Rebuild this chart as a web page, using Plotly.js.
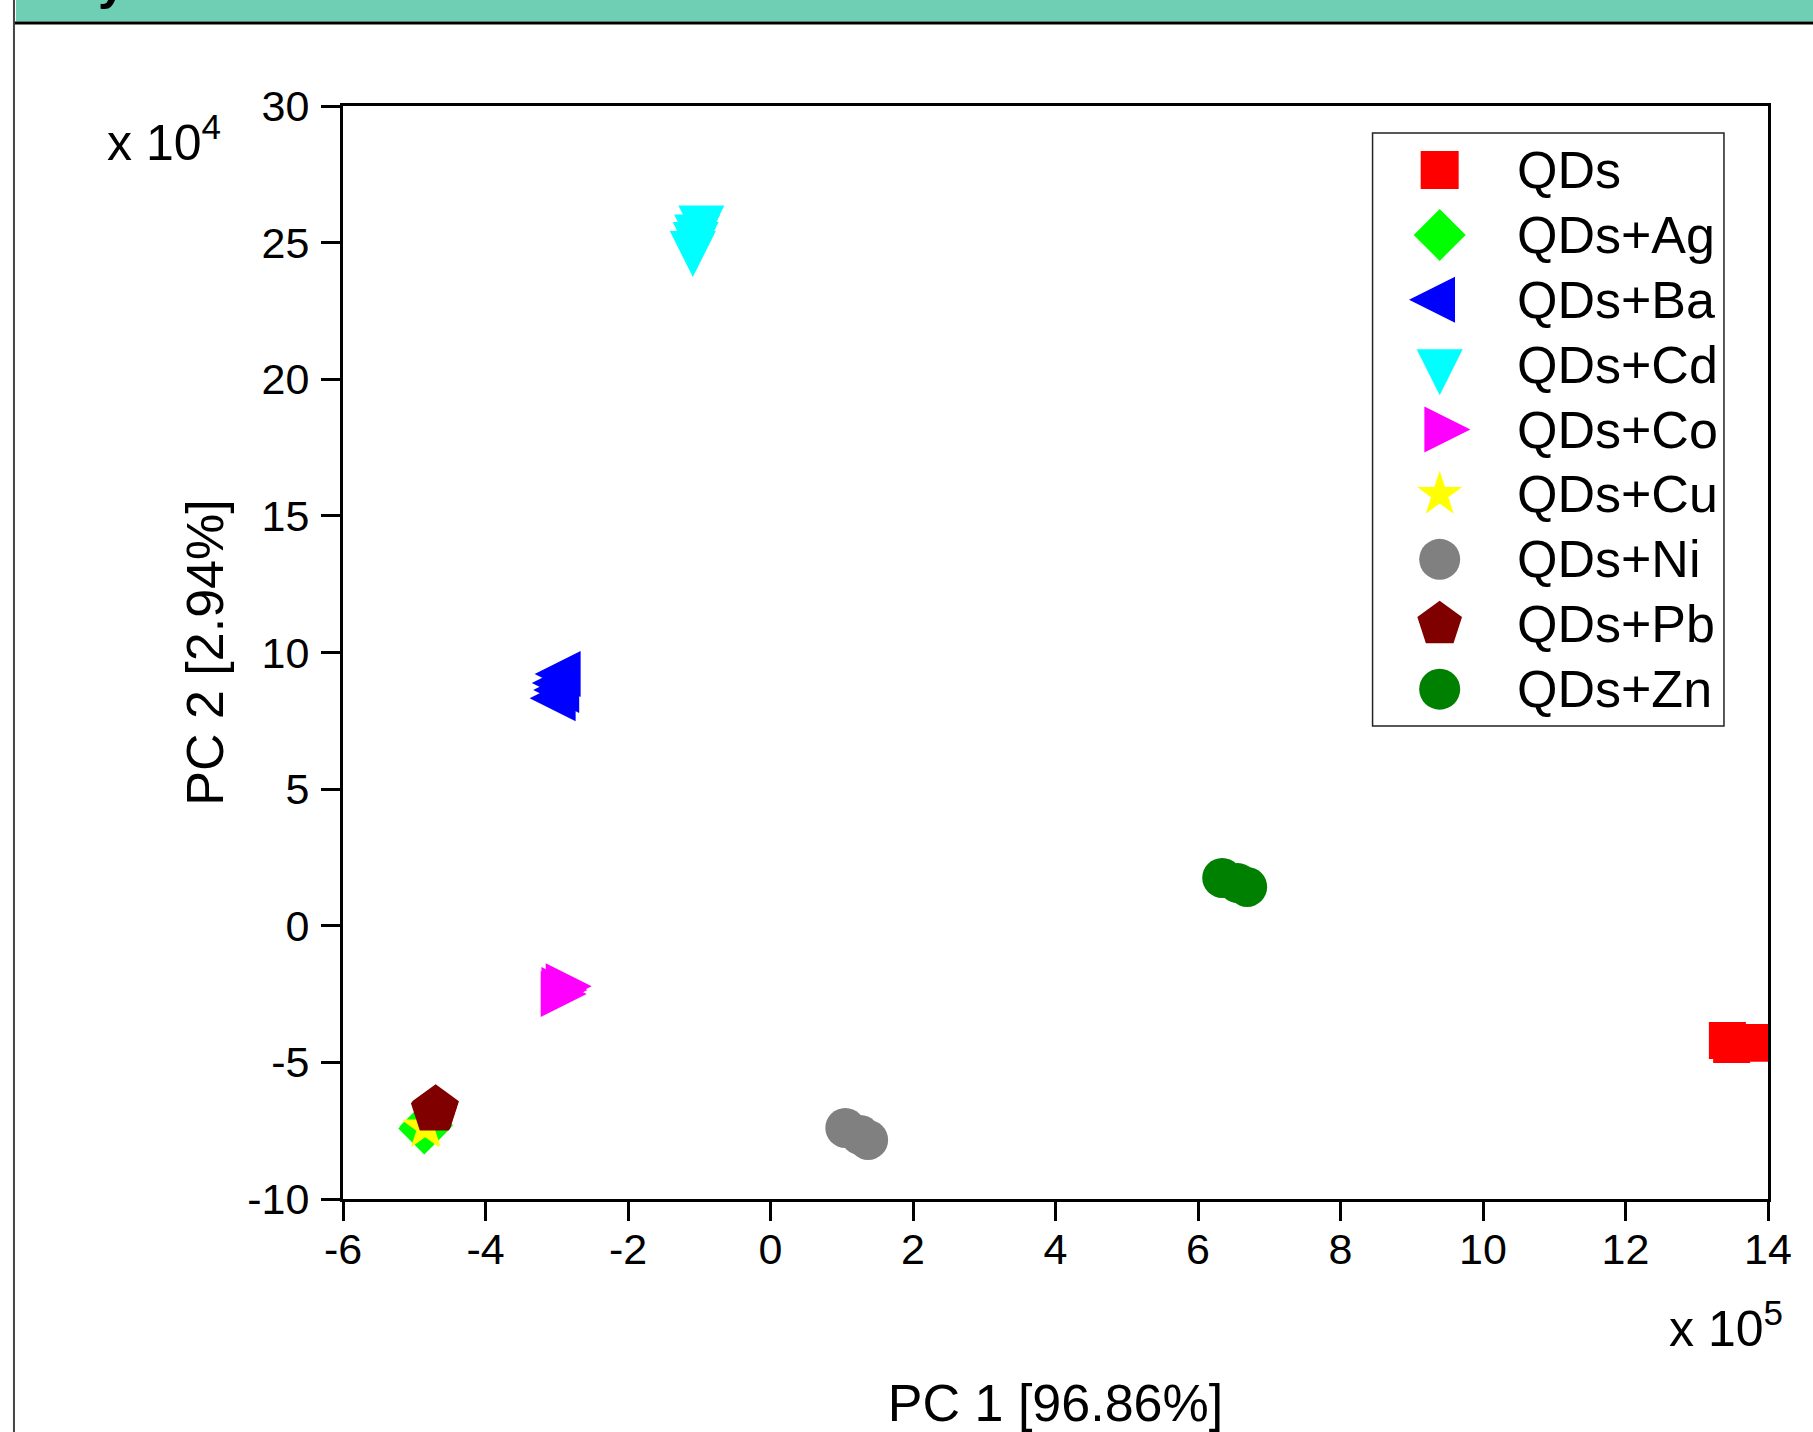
<!DOCTYPE html>
<html>
<head>
<meta charset="utf-8">
<script src="https://cdn.plot.ly/plotly-3.0.1.min.js"></script>
<style>
  html, body { margin: 0; padding: 0; background: #ffffff; }
  #chart { width: 1813px; height: 1432px; }
</style>
</head>
<body>
<div id="chart"></div>
<script>
// ---- data (PC1 in units of 1e5, PC2 in units of 1e4) ----
const categories = ['QDs', 'QDs+Ag', 'QDs+Ba', 'QDs+Cd', 'QDs+Co', 'QDs+Cu', 'QDs+Ni', 'QDs+Pb', 'QDs+Zn'];

const qdsX = [13.43, 13.49, 13.78, 13.89];
const qdsY = [-4.20, -4.35, -4.27, -4.30];
const agX = [-4.84, -4.86, -4.82];
const agY = [-7.35, -7.42, -7.30];
const baX = [-2.88, -2.92, -2.90, -2.95];
const baY = [9.21, 8.88, 8.63, 8.33];
const cdX = [-0.97, -1.03, -1.05, -1.09];
const cdY = [25.80, 25.47, 25.19, 24.86];
const coX = [-2.94, -3.00, -3.01];
const coY = [-2.21, -2.35, -2.50];
const cuX = [-4.84, -4.85, -4.83];
const cuY = [-7.38, -7.40, -7.36];
const niX = [1.37, 1.26, 1.05];
const niY = [-7.84, -7.66, -7.40];
const pbX = [-4.71, -4.70, -4.72];
const pbY = [-6.74, -6.70, -6.77];
const znX = [6.69, 6.56, 6.34];
const znY = [1.42, 1.56, 1.75];

const xTickVals = [-6, -4, -2, 0, 2, 4, 6, 8, 10, 12, 14];
const xTickText = ['-6', '-4', '-2', '0', '2', '4', '6', '8', '10', '12', '14'];
const yTickVals = [-10, -5, 0, 5, 10, 15, 20, 25, 30];
const yTickText = ['-10', '-5', '0', '5', '10', '15', '20', '25', '30'];

const xTitle = 'PC 1 [96.86%]';
const yTitle = 'PC 2 [2.94%]';
const xExp = 'x 10<sup>5</sup>';
const yExp = 'x 10<sup>4</sup>';

// ---- styles ----
const FONT = 'Liberation Sans, Arial, Helvetica, sans-serif';
const dataX = [qdsX, agX, baX, cdX, coX, cuX, niX, pbX, znX];
const dataY = [qdsY, agY, baY, cdY, coY, cuY, niY, pbY, znY];

const styles = [
  {symbol: 'square',     angle: 0,   color: '#FF0000', size: 37},
  {symbol: 'diamond',    angle: 0,   color: '#00FF00', size: 40},
  {symbol: 'arrow-down', angle: 90,  color: '#0000FF', size: 46},
  {symbol: 'arrow-down', angle: 0,   color: '#00FFFF', size: 46},
  {symbol: 'arrow-down', angle: 270, color: '#FF00FF', size: 46},
  {symbol: 'star',       angle: 0,   color: '#FFFF00', size: 34},
  {symbol: 'circle',     angle: 0,   color: '#808080', size: 40},
  {symbol: 'pentagon',   angle: 0,   color: '#800000', size: 49},
  {symbol: 'circle',     angle: 0,   color: '#008000', size: 40}
];
const legendStyles = [
  {symbol: 'square',     angle: 0,   size: 38},
  {symbol: 'diamond',    angle: 0,   size: 40},
  {symbol: 'arrow-down', angle: 90,  size: 46},
  {symbol: 'arrow-down', angle: 0,   size: 46},
  {symbol: 'arrow-down', angle: 270, size: 46},
  {symbol: 'star',       angle: 0,   size: 34},
  {symbol: 'circle',     angle: 0,   size: 41},
  {symbol: 'pentagon',   angle: 0,   size: 47},
  {symbol: 'circle',     angle: 0,   size: 41}
];
function standoffFor(st) { return st.symbol.indexOf('arrow') === 0 ? st.size * 2 / 3 : 0; }

const traces = categories.map((name, i) => ({
  type: 'scatter',
  mode: 'markers',
  name: name,
  x: dataX[i],
  y: dataY[i],
  xaxis: 'x', yaxis: 'y',
  marker: {
    symbol: styles[i].symbol,
    angle: styles[i].angle,
    standoff: standoffFor(styles[i]),
    size: styles[i].size,
    color: styles[i].color,
    opacity: 1,
    line: {width: 0}
  },
  hoverinfo: 'name+x+y'
}));

// custom legend (large symbols) drawn on an auxiliary hidden axis pair
const rows = categories.map((_, i) => i);
traces.push({
  type: 'scatter',
  mode: 'markers',
  x: rows.map(() => 0.191),
  y: rows,
  xaxis: 'x2', yaxis: 'y2',
  cliponaxis: false,
  hoverinfo: 'skip',
  showlegend: false,
  marker: {
    symbol: legendStyles.map(s => s.symbol),
    angle: legendStyles.map(s => s.angle),
    standoff: legendStyles.map(s => standoffFor(s)),
    size: legendStyles.map(s => s.size),
    color: styles.map(s => s.color),
    opacity: 1,
    line: {width: 0}
  }
});

const legendAnnotations = categories.map((name, i) => ({
  xref: 'x2', yref: 'y2', x: 0.4046, y: i,
  xanchor: 'left', yanchor: 'middle',
  text: name, showarrow: false,
  font: {family: FONT, size: 52, color: '#000000'}
}));

const axisCommon = {
  showgrid: false, zeroline: false,
  showline: true, linecolor: '#000000', linewidth: 3, mirror: true,
  ticks: 'outside', ticklen: 19, tickwidth: 3, tickcolor: '#000000',
  tickmode: 'array',
  tickfont: {family: FONT, size: 43, color: '#000000'},
  automargin: false, fixedrange: true
};

const layout = {
  width: 1813, height: 1432,
  margin: {l: 343, r: 45, t: 106, b: 233, pad: 0},
  paper_bgcolor: '#ffffff', plot_bgcolor: '#ffffff',
  font: {family: FONT, size: 43, color: '#000000'},
  showlegend: false,
  xaxis: Object.assign({}, axisCommon, {
    range: [-6, 14], tickvals: xTickVals, ticktext: xTickText,
    ticklabelstandoff: -9,
    title: {text: xTitle, font: {family: FONT, size: 52, color: '#000000'}, standoff: 119}
  }),
  yaxis: Object.assign({}, axisCommon, {
    range: [-10, 30], tickvals: yTickVals, ticktext: yTickText,
    ticklabelstandoff: 3,
    title: {text: yTitle, font: {family: FONT, size: 52, color: '#000000'}, standoff: 8}
  }),
  xaxis2: {domain: [0.7225, 0.9691], range: [0, 1], anchor: 'y2', visible: false, fixedrange: true},
  yaxis2: {domain: [0.4328, 0.9753], range: [8.567, -0.570], anchor: 'x2', visible: false, fixedrange: true},
  shapes: [
    // top banner of the page
    {type: 'rect', xref: 'paper', yref: 'paper', x0: -0.2295, x1: 1.04, y0: 1.0773, y1: 1.10,
     fillcolor: '#6FCFB4', line: {width: 0}, layer: 'below'},
    {type: 'line', xref: 'paper', yref: 'paper', x0: -0.2309, x1: 1.04, y0: 1.0760, y1: 1.0760,
     line: {color: '#000000', width: 3}},
    {type: 'line', xref: 'paper', yref: 'paper', x0: -0.2309, x1: -0.2309, y0: -0.22, y1: 1.10,
     line: {color: '#444444', width: 2}},
    // legend frame
    {type: 'rect', xref: 'x2 domain', yref: 'y2 domain', x0: 0, x1: 1, y0: 0, y1: 1,
     line: {color: '#222222', width: 1.5}, fillcolor: 'rgba(0,0,0,0)'}
  ],
  annotations: legendAnnotations.concat([
    {xref: 'paper', yref: 'paper', x: -0.167, y: 0.9387, xanchor: 'left', yanchor: 'bottom',
     text: yExp, showarrow: false, font: {family: FONT, size: 50, color: '#000000'}},
    {xref: 'paper', yref: 'paper', x: 0.929, y: -0.1464, xanchor: 'left', yanchor: 'bottom',
     text: xExp, showarrow: false, font: {family: FONT, size: 50, color: '#000000'}},
    {xref: 'paper', yref: 'paper', x: -0.1621, y: 1.0860, xanchor: 'center', yanchor: 'bottom',
     text: '<b>y</b>', showarrow: false, font: {family: FONT, size: 50, color: '#000000'}}
  ])
};

Plotly.newPlot('chart', traces, layout, {displayModeBar: false, responsive: false});
</script>
</body>
</html>
